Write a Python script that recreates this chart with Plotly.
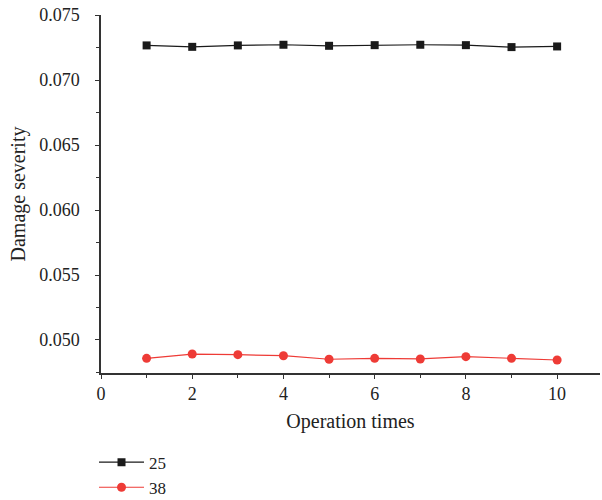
import plotly.graph_objects as go

operation_times = [1, 2, 3, 4, 5, 6, 7, 8, 9, 10]
series_25 = [0.07267, 0.07256, 0.07267, 0.07272, 0.07264, 0.07269, 0.07272, 0.07269, 0.07254, 0.07259]
series_38 = [0.04859, 0.04892, 0.04887, 0.04879, 0.04852, 0.04859, 0.04854, 0.04872, 0.04859, 0.04846]
x_ticks = [0, 2, 4, 6, 8, 10]
y_ticks = [0.050, 0.055, 0.060, 0.065, 0.070, 0.075]

FONT = "Liberation Serif"

fig = go.Figure()
fig.add_trace(go.Scatter(
    x=operation_times, y=series_25, name="25", mode="lines+markers",
    line=dict(color="#1a1a1a", width=1.2),
    marker=dict(symbol="square", size=8, color="#1a1a1a"),
))
fig.add_trace(go.Scatter(
    x=operation_times, y=series_38, name="38", mode="lines+markers",
    line=dict(color="#ee3b36", width=1.2),
    marker=dict(symbol="circle", size=9, color="#ee3b36"),
))

fig.update_layout(
    width=602, height=500,
    margin=dict(l=101, r=2, t=15, b=127, autoexpand=False),
    paper_bgcolor="white", plot_bgcolor="white",
    font=dict(family=FONT, size=18, color="#222"),
    showlegend=True,
    legend=dict(
        x=-0.014, y=-0.2, xanchor="left", yanchor="top",
        orientation="v", font=dict(family=FONT, size=17, color="#222"),
        tracegroupgap=0, itemwidth=45,
    ),
    xaxis=dict(
        range=[0, 10.94], tickvals=x_ticks, ticktext=[str(v) for v in x_ticks],
        showgrid=False, zeroline=False, showline=True, linecolor="#333", linewidth=1.5,
        ticks="outside", ticklen=4, tickcolor="#333",
        tickfont=dict(family=FONT, size=18),
        minor=dict(ticks="outside", dtick=1, tick0=0, ticklen=3, tickcolor="#333", showgrid=False),
        title=dict(text="Operation times", font=dict(family=FONT, size=20), standoff=11),
    ),
    yaxis=dict(
        range=[0.04746, 0.07501], tickvals=y_ticks, ticktext=[f"{v:.3f}" for v in y_ticks],
        showgrid=False, zeroline=False, showline=True, linecolor="#333", linewidth=1.5,
        ticks="outside", ticklen=4, tickcolor="#333", ticklabelstandoff=12,
        tickfont=dict(family=FONT, size=18),
        minor=dict(ticks="outside", dtick=0.0025, tick0=0.05, ticklen=3, tickcolor="#333", showgrid=False),
        title=dict(text="Damage severity", font=dict(family=FONT, size=20), standoff=8),
    ),
)

fig.write_html("out.html", config={"displayModeBar": False},
               post_script="document.body.style.margin='0';")
